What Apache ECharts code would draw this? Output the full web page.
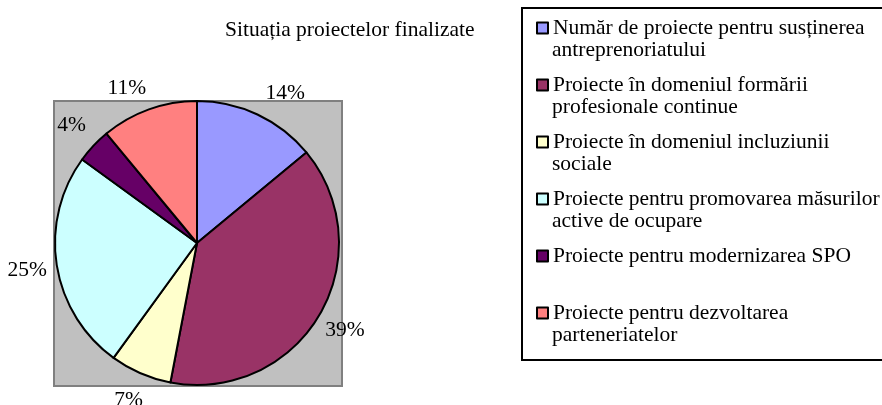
<!DOCTYPE html>
<html>
<head>
<meta charset="utf-8">
<script src="https://cdn.jsdelivr.net/npm/echarts@6/dist/echarts.min.js"></script>
<style>html,body{margin:0;padding:0;background:#fff;}#c{width:882px;height:405px;}</style>
</head>
<body>
<div id="c"></div>
<script>
const titleText = 'Situația proiectelor finalizate';
const categories = [
  'Număr de proiecte pentru susținerea antreprenoriatului',
  'Proiecte în domeniul formării profesionale continue',
  'Proiecte în domeniul incluziunii sociale',
  'Proiecte pentru promovarea măsurilor active de ocupare',
  'Proiecte pentru modernizarea SPO',
  'Proiecte pentru dezvoltarea parteneriatelor'
];
const legendLine1 = [
  'Număr de proiecte pentru susținerea',
  'Proiecte în domeniul formării',
  'Proiecte în domeniul incluziunii',
  'Proiecte pentru promovarea măsurilor',
  'Proiecte pentru modernizarea SPO',
  'Proiecte pentru dezvoltarea'
];
const legendLine2 = [
  'antreprenoriatului',
  'profesionale continue',
  'sociale',
  'active de ocupare',
  ' ',
  'parteneriatelor'
];
const values = [14, 39, 7, 25, 4, 11];
const colors = ['#9999FF', '#993366', '#FFFFCC', '#CCFFFF', '#660066', '#FF8080'];

const FONT = 'Liberation Serif';
const FS = 21.5;
const LH = 22;

const legendCommon = {
  orient: 'vertical',
  itemGap: 35,
  itemWidth: 11,
  itemHeight: 11,
  icon: 'rect',
  selectedMode: false,
  padding: 0,
  data: categories
};

const chart = echarts.init(document.getElementById('c'), null, {renderer: 'canvas'});
chart.setOption({
  animation: false,
  backgroundColor: '#ffffff',
  title: {
    text: titleText,
    left: 220,
    top: 14,
    textStyle: {fontFamily: FONT, fontSize: FS, fontWeight: 'normal', color: '#000'}
  },
  graphic: [{
    type: 'rect',
    z: 0,
    shape: {x: 54, y: 101, width: 288, height: 285},
    style: {fill: '#c0c0c0', stroke: '#808080', lineWidth: 2}
  }, {
    type: 'rect',
    z: 0,
    shape: {x: 522, y: 8, width: 400, height: 352},
    style: {fill: '#ffffff', stroke: '#000000', lineWidth: 2}
  }],
  legend: [
    Object.assign({}, legendCommon, {
      left: 536,
      top: 17,
      z: 5,
      itemStyle: {borderColor: '#000', borderWidth: 2},
      formatter: function (name) { return legendLine1[categories.indexOf(name)]; },
      textStyle: {fontFamily: FONT, fontSize: FS, color: '#000', lineHeight: LH}
    }),
    Object.assign({}, legendCommon, {
      left: 536,
      top: 39,
      z: 5,
      itemStyle: {color: 'rgba(0,0,0,0)', borderWidth: 0},
      formatter: function (name) { return legendLine2[categories.indexOf(name)]; },
      textStyle: {fontFamily: FONT, fontSize: FS, color: '#000', lineHeight: LH}
    })
  ],
  series: [{
    type: 'pie',
    center: [197, 243],
    radius: 142,
    startAngle: 90,
    clockwise: true,
    silent: true,
    z: 3,
    label: {show: false},
    labelLine: {show: false},
    emphasis: {disabled: true},
    itemStyle: {borderColor: '#000', borderWidth: 2},
    data: categories.map((n, i) => ({name: n, value: values[i], itemStyle: {color: colors[i]}}))
  }, {
    type: 'pie',
    center: [197, 243],
    radius: [164, 174],
    startAngle: 90,
    clockwise: true,
    silent: true,
    legendHoverLink: false,
    z: 4,
    emphasis: {disabled: true},
    itemStyle: {color: 'rgba(0,0,0,0)', borderWidth: 0},
    label: {show: true, position: 'inside', formatter: '{c}%', fontFamily: FONT, fontSize: FS, color: '#000'},
    labelLine: {show: false},
    labelLayout: function (p) {
      // Excel spreads the two labels near the top a little apart
      if (p.dataIndex === 0) return {dx: 15, dy: 6};
      if (p.dataIndex === 5) return {dx: -12, dy: 7};
      return {};
    },
    data: categories.map((n, i) => ({name: n, value: values[i]}))
  }]
});
</script>
</body>
</html>
